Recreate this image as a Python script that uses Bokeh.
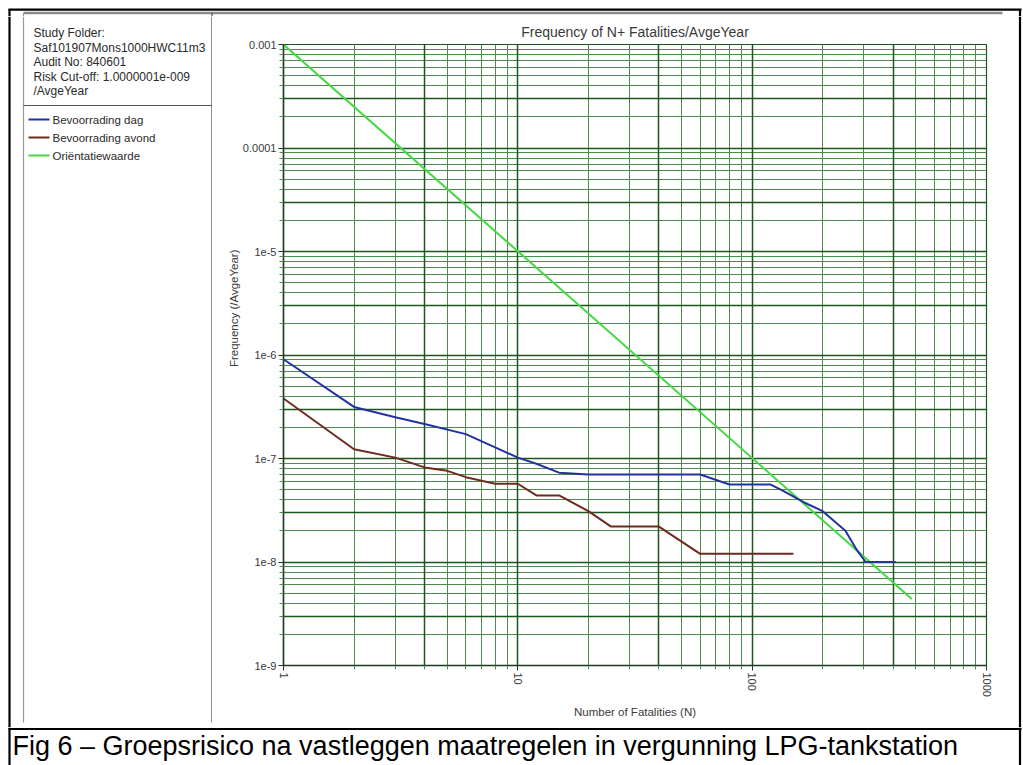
from bokeh.plotting import figure
from bokeh.models import Range1d, FixedTicker, Grid, CustomJSTickFormatter, Title
from bokeh.layouts import column, row
from bokeh.core.properties import value
from bokeh.embed import file_html
from bokeh.resources import INLINE

FONT_NAME = "Liberation Sans"
FONT = value(FONT_NAME)

# ---------------- texts ----------------
title_text = "Frequency of N+ Fatalities/AvgeYear"
x_label = "Number of Fatalities (N)"
y_label = "Frequency (/AvgeYear)"
caption = "Fig 6 \u2013 Groepsrisico na vastleggen maatregelen in vergunning LPG-tankstation"
info_lines = ["Study Folder:", "Saf101907Mons1000HWC11m3", "Audit No: 840601",
              "Risk Cut-off: 1.0000001e-009", "/AvgeYear"]

# ---------------- data ----------------
series_names = ["Bevoorrading dag", "Bevoorrading avond", "Ori\u00ebntatiewaarde"]
series_colors = ["#2233a0", "#6e2a1e", "#44d844"]

dag_n = [1, 2, 3, 4, 6, 8, 10, 12, 15, 20, 60, 80, 120, 135, 165, 200, 250, 280, 305, 410]
dag_f = [9.1e-7, 3.15e-7, 2.5e-7, 2.15e-7, 1.72e-7, 1.28e-7, 1.02e-7, 8.9e-8, 7.3e-8,
         7.0e-8, 7.0e-8, 5.6e-8, 5.6e-8, 4.9e-8, 3.8e-8, 3.1e-8, 2.0e-8, 1.3e-8,
         1.0e-8, 1.0e-8]

avond_n = [1, 2, 3, 4, 5, 6, 8, 10, 12, 15, 20, 25, 40, 60, 150]
avond_f = [3.8e-7, 1.23e-7, 1.02e-7, 8.2e-8, 7.6e-8, 6.6e-8, 5.7e-8, 5.7e-8, 4.4e-8,
           4.4e-8, 3.1e-8, 2.2e-8, 2.2e-8, 1.2e-8, 1.2e-8]

norm_n = [1, 480]
norm_f = [1e-3, 4.4e-9]

x_ticks = [1, 10, 100, 1000]
x_tick_labels = ["1", "10", "100", "1000"]
y_ticks = [1e-9, 1e-8, 1e-7, 1e-6, 1e-5, 1e-4, 1e-3]
y_tick_labels = ["1e-9", "1e-8", "1e-7", "1e-6", "1e-5", "0.0001", "0.001"]

x_minor = [k * 10 ** e for e in range(0, 3) for k in range(2, 10)]
y_minor = [k * 10.0 ** e for e in range(-9, -3) for k in range(2, 10)]
x_dark = [4, 10, 40, 100, 400, 1000]
x_light = [v for v in x_minor if v not in x_dark]
y_dark = y_ticks + [3 * 10.0 ** e for e in range(-9, -3)]
y_light = [v for v in y_minor if not any(abs(v - d) < 1e-15 for d in y_dark)]

LIGHT = "#4f8a4f"
DARK = "#1d561d"
AXIS = "#1f3a1f"
TXT = "#3a3a3a"

JS = """
let best = 0, bd = 1e9;
for (let i = 0; i < tv.length; i++) {
  const d = Math.abs(Math.log10(tv[i]) - Math.log10(tick));
  if (d < bd) { bd = d; best = i; }
}
return tl[best];
"""


def no_align(f):
    try:
        f.frame_align = False
    except AttributeError:
        pass


def blank(width, height, xr, yr):
    f = figure(width=width, height=height, frame_width=width, frame_height=height,
               x_range=Range1d(*xr), y_range=Range1d(*yr),
               output_backend="svg", toolbar_location=None,
               x_axis_location=None, y_axis_location=None, min_border=0,
               outline_line_color=None)
    f.grid.visible = False
    no_align(f)
    return f


# ---------------- top strip (y 0..16) ----------------
top = blank(1023, 16, (0, 1023), (16, 0))
top.segment(x0=[8, 23, 9, 1019.5, 23, 211.5], y0=[9.2, 12.5, 8.5, 8.5, 12.5, 12.5],
            x1=[1021, 1002, 9, 1019.5, 23, 211.5], y1=[9.2, 12.5, 16, 16, 16, 16],
            line_color=["black", "#8a8a8a", "black", "black", "#9a9a9a", "#555555"],
            line_width=[2.2, 2.5, 2.2, 2.2, 1.2, 1.3])

# ---------------- left panel (x 0..212, y 16..727) ----------------
lf = blank(212, 711, (0, 212), (727, 16))
lf.segment(x0=[9, 23, 211.5, 23], y0=[16, 16, 16, 105],
           x1=[9, 23, 211.5, 211.5], y1=[727, 722, 722, 105],
           line_color=["black", "#9a9a9a", "#555555", "#555555"],
           line_width=[2.2, 1.2, 1.3, 1.2])
lf.text(x=[33] * len(info_lines), y=[32, 47, 61, 76, 90], text=info_lines,
        text_font=FONT, text_font_size="12px", text_color="#2a2a2a",
        text_baseline="middle", text_align="left")
leg_y = [119, 137, 155]
lf.segment(x0=[28] * 3, y0=leg_y, x1=[49] * 3, y1=leg_y,
           line_color=series_colors, line_width=2)
lf.text(x=[52] * 3, y=leg_y, text=series_names, text_font=FONT, text_font_size="11.5px",
        text_color="#2a2a2a", text_baseline="middle", text_align="left")

# ---------------- main chart (x 212..1004, y 16..727) ----------------
p = figure(width=792, height=711, x_axis_type="log", y_axis_type="log",
           x_range=Range1d(1, 1000), y_range=Range1d(1e-9, 1e-3),
           output_backend="svg", toolbar_location=None,
           min_border_left=71, min_border_right=18, min_border_top=27, min_border_bottom=62,
           outline_line_color=DARK, outline_line_width=1.2)
no_align(p)
p.xgrid.visible = False
p.ygrid.visible = False

for dim, ticks, col, w in [(0, x_light, LIGHT, 1), (1, y_light, LIGHT, 1),
                           (0, x_dark, DARK, 1.5), (1, y_dark, DARK, 1.5)]:
    p.add_layout(Grid(dimension=dim, ticker=FixedTicker(ticks=ticks),
                      grid_line_color=col, grid_line_width=w))

p.title.text = title_text
p.title.align = "center"
p.title.text_font = FONT_NAME
p.title.text_font_size = "14px"
p.title.text_font_style = "normal"
p.title.text_color = TXT
p.title.standoff = 10

xa = p.xaxis[0]
xa.ticker = FixedTicker(ticks=x_ticks, minor_ticks=x_minor)
xa.formatter = CustomJSTickFormatter(args=dict(tv=x_ticks, tl=x_tick_labels), code=JS)
xa.major_label_orientation = "vertical"
xa.axis_label = x_label
xa.axis_label_standoff = 6

ya = p.yaxis[0]
ya.ticker = FixedTicker(ticks=y_ticks, minor_ticks=y_minor)
ya.formatter = CustomJSTickFormatter(args=dict(tv=y_ticks, tl=y_tick_labels), code=JS)

for ax in (xa, ya):
    ax.axis_line_color = AXIS
    ax.axis_line_width = 1.5
    ax.major_tick_line_color = AXIS
    ax.minor_tick_line_color = LIGHT
    ax.major_tick_in = 0
    ax.minor_tick_in = 0
    ax.major_tick_out = 5
    ax.minor_tick_out = 4
    ax.major_label_standoff = 2
    ax.major_label_text_font = FONT_NAME
    ax.major_label_text_font_size = "11px"
    ax.major_label_text_color = TXT
    ax.axis_label_text_font = FONT_NAME
    ax.axis_label_text_font_size = "11.5px"
    ax.axis_label_text_font_style = "normal"
    ax.axis_label_text_color = TXT

p.add_layout(Title(text=y_label, align="right", offset=205, standoff=0,
                   text_font=FONT_NAME, text_font_size="11.5px", text_font_style="normal",
                   text_color=TXT), "left")

p.line(norm_n, norm_f, line_color=series_colors[2], line_width=2)
p.line(avond_n, avond_f, line_color=series_colors[1], line_width=2)
p.line(dag_n, dag_f, line_color=series_colors[0], line_width=2)

# ---------------- right strip (x 1004..1023) ----------------
rf = blank(19, 711, (1004, 1023), (727, 16))
rf.segment(x0=[1019.5], y0=[16], x1=[1019.5], y1=[727], line_color="black", line_width=2.2)

# ---------------- caption (y 727..765) ----------------
cf = blank(1023, 38, (0, 1023), (765, 727))
cf.segment(x0=[8, 9, 1019.5], y0=[728.5, 727, 727], x1=[1021, 9, 1019.5], y1=[728.5, 765, 765],
           line_color="black", line_width=2.2)
cf.text(x=[12], y=[745], text=[caption], text_font=FONT, text_font_size="27px",
        text_color="black", text_baseline="middle", text_align="left")

layout = column(top, row(lf, p, rf), cf)
open("out.html", "w").write(file_html(layout, INLINE))
